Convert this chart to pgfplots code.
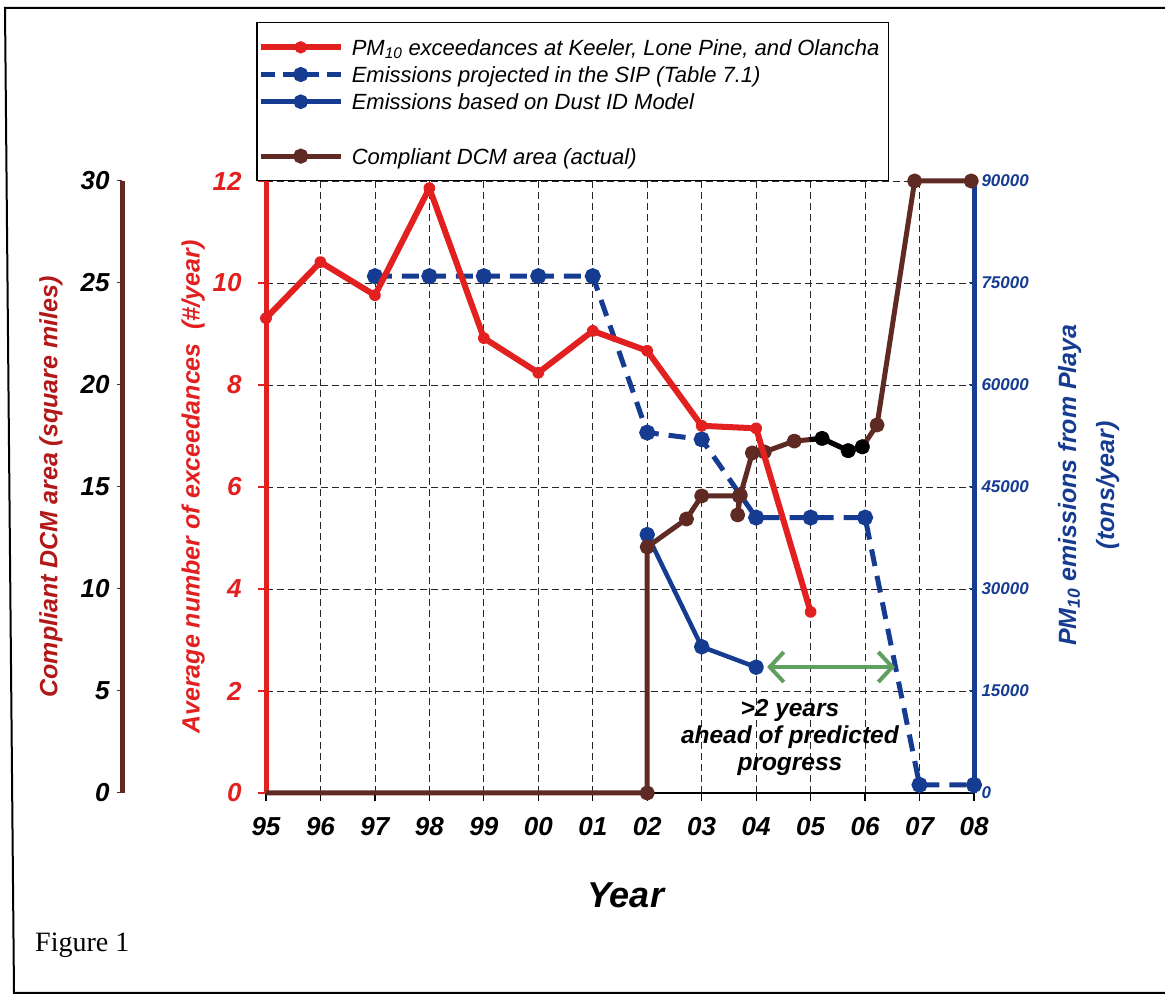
\documentclass[border=0pt]{standalone}
\usepackage{fontspec}
\setmainfont{Liberation Sans}
\newfontfamily\figserif{Liberation Serif}
\usepackage{pgfplots}
\pgfplotsset{compat=1.18}
\usetikzlibrary{arrows.meta}
\definecolor{cred}{RGB}{226,32,32}
\definecolor{cblue}{RGB}{22,60,145}
\definecolor{cbrown}{RGB}{95,42,35}
\definecolor{clab}{RGB}{178,24,24}
\definecolor{cgreen}{RGB}{95,160,95}
\newcommand\fs[1]{\fontsize{#1}{#1}\selectfont}

\pgfplotstableread{
x y
0 9.31
1 10.41
2 9.76
3 11.86
4 8.92
5 8.24
6 9.06
7 8.67
8 7.20
9 7.15
10 3.55
}\redtab

\pgfplotstableread{
x y
2 76000
3 76000
4 76000
5 76000
6 76000
7 53000
8 52000
9 40500
10 40500
11 40500
12 1200
13 1200
}\siptab

\pgfplotstableread{
x y
7 38000
8 21500
9 18500
}\modeltab

\pgfplotstableread{
x y
0 0
7 0
7 12.06
7.72 13.43
8 14.56
8.69 14.56
8.66 13.63
8.71 14.6
8.93 16.67
9.15 16.72
9.70 17.25
10.21 17.38
10.69 16.78
10.95 16.97
11.22 18.04
11.91 30
12.95 30
}\browntab

\pgfplotstableread{
x y
9.98 17.32
10.21 17.38
10.69 16.78
10.95 16.97
}\blacktab

\begin{document}
\begin{tikzpicture}
\useasboundingbox (0pt,0pt) rectangle (1165pt,995pt);
\draw[line width=2pt] (1170pt,987pt) -- (5pt,987pt) -- (14pt,2pt) -- (1170pt,2pt);
\node[anchor=base west, inner sep=0pt, font=\figserif\fs{28}] at (35pt,43pt) {Figure 1};

% brown (left-most) axis
\begin{axis}[at={(122pt,202pt)}, anchor=south west, scale only axis,
  width=10pt, height=612pt, xmin=0, xmax=1, ymin=0, ymax=30, clip=false,
  axis x line=none, axis y line*=left,
  ytick={0,5,...,30}, yticklabels={0,5,10,15,20,25,30},
  y axis line style={-, cbrown, line width=5pt},
  ytick style={cbrown, line width=1pt}, tick align=outside, major tick length=5pt,
  yticklabel style={font=\fs{26}\bfseries\itshape, text=black, xshift=-4pt},
  ylabel={Compliant DCM area (square miles)},
  ylabel style={at={(axis description cs:-7.1,0.5)}, anchor=center,
    font=\fs{25}\bfseries\itshape, text=clab}]
\addplot[draw=none, forget plot] coordinates {(0,0)};
\end{axis}

% main axis: grid, red axis, x axis, legend
\begin{axis}[at={(266pt,202pt)}, anchor=south west, scale only axis,
  width=708pt, height=612pt, xmin=0, xmax=13, ymin=0, ymax=12, clip=false,
  axis x line*=bottom, axis y line*=left,
  xtick={0,...,13}, xticklabels={95,96,97,98,99,00,01,02,03,04,05,06,07,08},
  ytick={0,2,...,12}, yticklabels={0,2,4,6,8,10,12},
  tick align=outside, major tick length=8pt,
  x axis line style={-, black, line width=1.5pt},
  y axis line style={-, cred, line width=5pt},
  xtick style={black, line width=1.2pt},
  ytick style={cred, line width=1.2pt},
  grid=major,
  major grid style={black!85, line width=0.8pt, dash pattern=on 7pt off 4pt},
  xticklabel style={font=\fs{26}\bfseries\itshape, yshift=-13pt},
  yticklabel style={font=\fs{26}\bfseries\itshape, text=cred, xshift=-13pt},
  xlabel={Year},
  xlabel style={at={(axis description cs:0.508,-0.167)}, anchor=center,
    font=\fs{36}\bfseries\itshape},
  ylabel={Average number of exceedances\ \ (\#/year)},
  ylabel style={at={(axis description cs:-0.103,0.5)}, anchor=center,
    font=\fs{25}\bfseries\itshape, text=cred},
  legend cell align=left,
  legend image code/.code={\draw[mark repeat=2,mark phase=2,#1] plot coordinates {(0pt,0pt) (40pt,0pt) (80pt,0pt)};},
  legend style={at={(axis description cs:-0.0141,1.2598)}, anchor=north west,
    draw=black, line width=1.5pt, fill=white, font=\fs{22}\itshape,
    inner xsep=1pt, inner ysep=11pt, row sep=0pt,
    nodes={inner ysep=0pt, inner xsep=8pt, text height=21.6pt, text depth=5.6pt}}]
\addplot[draw=none, forget plot] coordinates {(0,0)};
\addlegendimage{cred, line width=6pt, mark=*, mark size=3pt}
\addlegendentry{PM\textsubscript{10} exceedances at Keeler, Lone Pine, and Olancha}
\addlegendimage{cblue, line width=5pt, dash pattern=on 14pt off 8pt, mark=*, mark size=5pt, mark options={solid}}
\addlegendentry{Emissions projected in the SIP (Table 7.1)}
\addlegendimage{cblue, line width=4.5pt, mark=*, mark size=5pt}
\addlegendentry{Emissions based on Dust ID Model}
\addlegendimage{empty legend}
\addlegendentry{}
\addlegendimage{cbrown, line width=5pt, mark=*, mark size=5pt}
\addlegendentry{Compliant DCM area (actual)}
\end{axis}

% right blue axis and emissions
\begin{axis}[at={(266pt,202pt)}, anchor=south west, scale only axis,
  width=708pt, height=612pt, xmin=0, xmax=13, ymin=0, ymax=90000, clip=false,
  axis x line=none, axis y line*=right, scaled y ticks=false,
  ytick={0,15000,...,90000}, yticklabels={0,15000,30000,45000,60000,75000,90000},
  y axis line style={-, cblue, line width=5pt},
  ytick style={cblue, line width=1pt}, major tick length=5pt, tick align=inside,
  yticklabel style={font=\fs{17}\bfseries\itshape, text=cblue, xshift=4pt},
  ylabel={PM\textsubscript{10} emissions from Playa\\(tons/year)},
  ylabel style={at={(axis description cs:1.162,0.503)}, anchor=center, align=center,
    font=\fontsize{25}{38}\selectfont\bfseries\itshape, text=cblue}]
\addplot[cblue, line width=5pt, dash pattern=on 17pt off 10pt, mark=*, mark size=5.5pt, mark options={solid}] table {\siptab};
\addplot[cblue, line width=4.5pt, mark=*, mark size=5.5pt, line join=round] table {\modeltab};
\end{axis}

% brown DCM area data
\begin{axis}[at={(266pt,202pt)}, anchor=south west, scale only axis,
  width=708pt, height=612pt, xmin=0, xmax=13, ymin=0, ymax=30, clip=false, hide axis]
\addplot[cbrown, line width=5pt, line join=round, mark=*, mark size=5pt, mark indices={2,...,17}] table {\browntab};
\addplot[black, line width=5pt, line join=round, mark=*, mark size=5pt, mark indices={2,3,4}] table {\blacktab};
\end{axis}

% red exceedances and annotation
\begin{axis}[at={(266pt,202pt)}, anchor=south west, scale only axis,
  width=708pt, height=612pt, xmin=0, xmax=13, ymin=0, ymax=12, clip=false, hide axis]
\addplot[cred, line width=6pt, line join=round, mark=*, mark size=3pt] table {\redtab};
\draw[cgreen, line width=4pt, {Straight Barb[length=14pt,width=30pt]}-{Straight Barb[length=14pt,width=30pt]}] (axis cs:9.2,2.47) -- (axis cs:11.55,2.47);
\node[font=\fontsize{24.5}{27}\selectfont\bfseries\itshape, align=center] at (axis cs:9.62,1.08) {>2 years\\ahead of predicted\\progress};
\end{axis}
\end{tikzpicture}
\end{document}
